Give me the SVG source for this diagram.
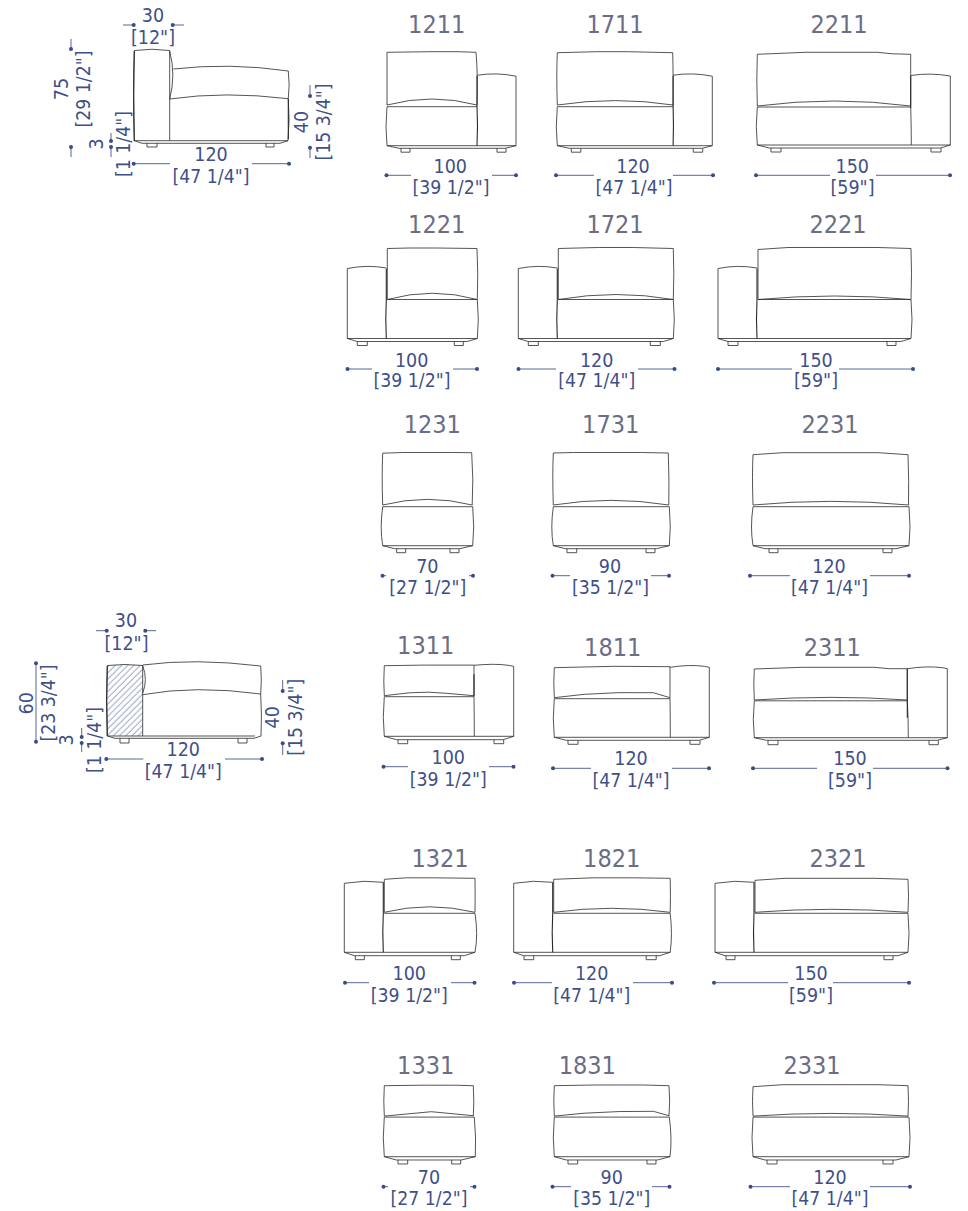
<svg xmlns="http://www.w3.org/2000/svg" width="968" height="1211" viewBox="0 0 968 1211">
<style>
text{font-family:"DejaVu Sans Condensed","DejaVu Sans",sans-serif;font-stretch:condensed;text-anchor:middle}
.t{font-size:25px;fill:#6b6d85}
.d{font-size:19.5px;fill:#3f5088}
.s{fill:none;stroke:#2a2a2a;stroke-width:.8}
.k{fill:none;stroke:#2a2a2a;stroke-width:1.1}
.l{fill:none;stroke:#46568c;stroke-width:.9;marker-start:url(#dot)}
</style>
<defs>
<marker id="dot" markerUnits="userSpaceOnUse" markerWidth="6" markerHeight="6" refX="3" refY="3"><circle cx="3" cy="3" r="2" fill="#3a4b85"/></marker>
<pattern id="hatch" patternUnits="userSpaceOnUse" width="4.4" height="4.4" patternTransform="rotate(-45)"><line x1="0" y1="2" x2="4.4" y2="2" stroke="#9aa6c4" stroke-width="1"/></pattern>
</defs>

<g id="connectors">
<path class="l" d="M133.7,25H123"/><path class="l" d="M172.7,25H184"/>
<path class="l" d="M133.7,163.7H170"/><path class="l" d="M289,163.7H252"/>
<path class="l" d="M71,49V39"/><path class="l" d="M71,147V157"/>
<path class="l" d="M310,96V85"/><path class="l" d="M310,147.7V158"/>
<path class="l" d="M111,141V133"/><path class="l" d="M111,147V157"/>
<path class="l" d="M106.7,630.7H96"/><path class="l" d="M145.3,630.7H156"/>
<path class="l" d="M106.3,759H143.3"/><path class="l" d="M262,759H225"/>
<path class="l" d="M36,663.3V741.7" style="marker-end:url(#dot)"/>
<path class="l" d="M81.7,737V728"/><path class="l" d="M81.7,743V752"/>
<path class="l" d="M282.7,691V680"/><path class="l" d="M282.7,743.3V755"/>

<path class="l" d="M386.5,175.3H411"/><path class="l" d="M516,175.3H492"/>
<path class="l" d="M556,175.3H594"/><path class="l" d="M713,175.3H673"/>
<path class="l" d="M756,175.3H830"/><path class="l" d="M950,175.3H876"/>
<path class="l" d="M347.5,369H372"/><path class="l" d="M477,369H453"/>
<path class="l" d="M518.5,369H556"/><path class="l" d="M674.5,369H638"/>
<path class="l" d="M718,369H792"/><path class="l" d="M913,369H839"/>
<path class="l" d="M382.5,575.7H386"/><path class="l" d="M473,575.7H469"/>
<path class="l" d="M552.5,575.7H570"/><path class="l" d="M669,575.7H651"/>
<path class="l" d="M750,575.7H790"/><path class="l" d="M909,575.7H870"/>
<path class="l" d="M383.5,766.7H408"/><path class="l" d="M513.5,766.7H489"/>
<path class="l" d="M553,768.3H591"/><path class="l" d="M709,768.3H672"/>
<path class="l" d="M753,768.3H817"/><path class="l" d="M947.5,768.3H873"/>
<path class="l" d="M345,982.7H369"/><path class="l" d="M474.5,982.7H451"/>
<path class="l" d="M514,982.7H552"/><path class="l" d="M672,982.7H633"/>
<path class="l" d="M714,982.7H788"/><path class="l" d="M909,982.7H833"/>
<path class="l" d="M383.5,1186.7H388"/><path class="l" d="M474.5,1186.7H470"/>
<path class="l" d="M552.5,1186.7H571"/><path class="l" d="M669.5,1186.7H652"/>
<path class="l" d="M750.5,1186.7H790"/><path class="l" d="M910,1186.7H870"/>
</g>

<g id="side-75">
<path class="s" d="M134.3,140.7Q133,95 134.3,50.5Q152,48 169.7,50.5V140.7M134.3,140.7H288M134.3,140.7L142,143.3H280L288,140.7M169.7,51Q176,75 169.7,99M173.3,69Q230,62.5 288.3,71Q290,85 288.3,98.7M169.7,99Q225,91 288.3,98.7Q290,120 288,140.7M147,143.3V147H157V143.3M266,143.3V147H274V143.3"/>
<path class="k" d="M134.3,141Q133,95 134.3,51M288.3,99V139"/>
<text class="d" x="153" y="21.7">30</text>
<text class="d" x="153" y="44.3" textLength="44" lengthAdjust="spacingAndGlyphs">[12"]</text>
<text class="d" x="211" y="160.7">120</text>
<text class="d" x="211" y="182.7" textLength="77" lengthAdjust="spacingAndGlyphs">[47 1/4"]</text>
<text class="d" transform="translate(68.3,89) rotate(-90)">75</text>
<text class="d" transform="translate(90,89) rotate(-90)" textLength="77" lengthAdjust="spacingAndGlyphs">[29 1/2"]</text>
<text class="d" transform="translate(307.7,122) rotate(-90)">40</text>
<text class="d" transform="translate(330,122) rotate(-90)" textLength="77" lengthAdjust="spacingAndGlyphs">[15 3/4"]</text>
<text class="d" transform="translate(103.3,144) rotate(-90)">3</text>
<text class="d" transform="translate(130,144) rotate(-90)" textLength="66" lengthAdjust="spacingAndGlyphs">[1 1/4"]</text>
</g>

<g id="side-60">
<path d="M107.3,665.5Q125,663.5 142.7,665.5V736H107.3Z" fill="url(#hatch)" stroke="none"/>
<path class="s" d="M107.3,736Q106,700 107.3,665.5Q125,663.5 142.7,665.5V736M107.3,736H255M107.3,736L115,738.3H254L261,736M142.7,665.5Q148,680 142.7,693M142.7,665Q195,658 260.7,666Q262,680 260.7,694M142.7,694.7Q195,685 260.7,694Q262,715 261,736M120,738.3V743H129V738.3M238,738.3V743H247V738.3"/>
<path class="k" d="M107.3,736Q106,700 107.3,666"/>
<text class="d" x="126" y="627.3">30</text>
<text class="d" x="126.5" y="650" textLength="44" lengthAdjust="spacingAndGlyphs">[12"]</text>
<text class="d" x="183.3" y="755.7">120</text>
<text class="d" x="183.3" y="777.7" textLength="77" lengthAdjust="spacingAndGlyphs">[47 1/4"]</text>
<text class="d" transform="translate(33.3,703.3) rotate(-90)">60</text>
<text class="d" transform="translate(55,703) rotate(-90)" textLength="77" lengthAdjust="spacingAndGlyphs">[23 3/4"]</text>
<text class="d" transform="translate(279.3,717.3) rotate(-90)">40</text>
<text class="d" transform="translate(302.3,717.3) rotate(-90)" textLength="77" lengthAdjust="spacingAndGlyphs">[15 3/4"]</text>
<text class="d" transform="translate(73.3,740) rotate(-90)">3</text>
<text class="d" transform="translate(100.7,740) rotate(-90)" textLength="66" lengthAdjust="spacingAndGlyphs">[1 1/4"]</text>
</g>

<g id="sofa-1211">
<text class="t" x="436.7" y="32.7">1211</text>
<g transform="translate(387,145.7)">
<path class="s" d="M0,-40.7V-93.4L44,-94H70L89,-93.4Q91,-70 90,-40.7M0,-40.7Q45,-52.7 90,-40.7M0,-39H90M0,-39Q-2,-18 0,0H129M0,0L12,2.6H118L129,0M90.5,-70.5Q110,-73.5 129,-69.5V0M14,2.6V6.5H23V2.6M110,2.6V6.5H119V2.6"/>
<path class="k" d="M90,-70V-40Q91,-20 90,0"/></g>
<text class="d" x="450.3" y="173.3">100</text>
<text class="d" x="451" y="194" textLength="77" lengthAdjust="spacingAndGlyphs">[39 1/2"]</text>
</g>
<g id="sofa-1711">
<text class="t" x="615" y="32.7">1711</text>
<g transform="translate(557.3,145.7)">
<path class="s" d="M0,-40.7Q-1,-70 0,-93L40,-94H70L115.4,-93Q116,-70 115.8,-40.7M0,-40.7Q58,-49.5 115.8,-40.7M0,-39H115.8M0,-39Q-2,-18 0,0H155M0,0L12,2.6H145L155,0M115.8,-70.5Q135,-73.5 155,-69.5V0M14,2.6V6.5H23.5V2.6M136,2.6V6.5H145.4V2.6"/>
<path class="k" d="M115.8,-70V-40Q116.5,-20 115.8,0"/></g>
<text class="d" x="633" y="173.3">120</text>
<text class="d" x="634" y="194" textLength="77" lengthAdjust="spacingAndGlyphs">[47 1/4"]</text>
</g>
<g id="sofa-2211">
<text class="t" x="839" y="32.7">2211</text>
<g transform="translate(757.3,145)">
<path class="s" d="M0,-39Q-1,-65 0,-90.7L48,-92.7H120L135,-91.2L153.4,-90.7V-39M0,-39Q77,-49 153.4,-39M0,-38H153.4M0,-38Q-2,-18 0,0H193M0,0L12,3H183L193,0M153.4,-69.5Q173,-72.5 193,-69V0M153.4,-38Q154,-20 154,0M13.7,3V7H23.7V3M173.7,3V7H183.7V3"/>
<path class="k" d="M153.4,-69V-37"/></g>
<text class="d" x="852.3" y="173.3">150</text>
<text class="d" x="852.5" y="194" textLength="44" lengthAdjust="spacingAndGlyphs">[59"]</text>
</g>

<g id="sofa-1221">
<text class="t" x="436.7" y="233.3">1221</text>
<g transform="translate(387.3,338.5)">
<path class="s" d="M0,-39V-90L22,-90.5H48L89.7,-90Q91,-65 90,-39M0,-39Q45,-51.5 90,-39H0M90,-39Q92,-18 90,0M-40,0H90M-40,0L-30,3H80L90,0M-40,0V-70Q-20,-74 -1,-70.5M-30,3V7H-20V3M67,3V7H76V3"/>
<path class="k" d="M-1,-70V-39Q-2,-20 -1,0"/></g>
<text class="d" x="411.7" y="366.7">100</text>
<text class="d" x="412" y="387.3" textLength="77" lengthAdjust="spacingAndGlyphs">[39 1/2"]</text>
</g>
<g id="sofa-1721">
<text class="t" x="615" y="233.3">1721</text>
<g transform="translate(558.3,338.5)">
<path class="s" d="M0,-39V-90L40,-91H75L115,-90Q116,-65 115,-39M0,-39Q58,-49 115,-39H0M115,-39Q117,-18 115,0M-40,0H115M-40,0L-30,3H105L115,0M-40,0V-70Q-20,-74 -1,-70.5M-30,3V7H-20V3M92,3V7H102V3"/>
<path class="k" d="M-1,-70V-39Q-2,-20 -1,0"/></g>
<text class="d" x="596.7" y="366.7">120</text>
<text class="d" x="596.7" y="387.3" textLength="77" lengthAdjust="spacingAndGlyphs">[47 1/4"]</text>
</g>
<g id="sofa-2221">
<text class="t" x="838" y="233.3">2221</text>
<g transform="translate(758,338.5)">
<path class="s" d="M0,-39V-89L30,-91H120L153,-90Q154,-65 153,-39M0,-39Q77,-46 153,-39H0M153,-39Q155,-18 153,0M-40,0H153M-40,0L-30,3H143L153,0M-40,0V-70Q-20,-74 -1,-70.5M-30,3V7H-20V3M129,3V7H138V3"/>
<path class="k" d="M-1,-70V-39Q-2,-20 -1,0"/></g>
<text class="d" x="816" y="366.7">150</text>
<text class="d" x="816" y="387.3" textLength="44" lengthAdjust="spacingAndGlyphs">[59"]</text>
</g>

<g id="sofa-1231">
<text class="t" x="432.3" y="433.3">1231</text>
<g transform="translate(382.7,545.7)">
<path class="s" d="M0,-40.7Q-1,-70 0,-92.5L20,-93.2H70L89,-93Q91,-65 89.5,-40.7M0,-40.7Q45,-52 89.5,-40.7M0,-39H90M0,-39Q-3,-18 0,0L12,3H77L90,0M0,0H90M90,-39Q92,-18 90,0M14,3V7H23V3M67.3,3V7H76.3V3"/></g>
<text class="d" x="427.3" y="573.3">70</text>
<text class="d" x="427.7" y="594" textLength="77" lengthAdjust="spacingAndGlyphs">[27 1/2"]</text>
</g>
<g id="sofa-1731">
<text class="t" x="610.7" y="433.3">1731</text>
<g transform="translate(553.3,545.7)">
<path class="s" d="M0,-40.7Q-1,-70 0,-92.7L20,-93.2H88L115,-92.7Q116,-65 115.5,-40.7M0,-40.7Q58,-50 115.5,-40.7M0,-39H116M0,-39Q-3,-18 0,0L12,3H103L116,0M0,0H116M116,-39Q118,-18 116,0M13.7,3V7H23.4V3M92.7,3V7H101.7V3"/></g>
<text class="d" x="610" y="573.3">90</text>
<text class="d" x="610.5" y="594" textLength="77" lengthAdjust="spacingAndGlyphs">[35 1/2"]</text>
</g>
<g id="sofa-2231">
<text class="t" x="830" y="433.3">2231</text>
<g transform="translate(753,545.7)">
<path class="s" d="M0,-40.7Q-1,-70 0,-91L30,-93H125L155,-91Q156,-65 155.5,-40.7M0,-40.7Q78,-48 155.5,-40.7M0,-39H156M0,-39Q-3,-18 0,0L12,3H143L156,0M0,0H156M156,-39Q158,-18 156,0M16,3V7H25V3M130,3V7H139V3"/></g>
<text class="d" x="829" y="573.3">120</text>
<text class="d" x="829.5" y="594" textLength="77" lengthAdjust="spacingAndGlyphs">[47 1/4"]</text>
</g>

<g id="sofa-1311">
<text class="t" x="425.7" y="654.3">1311</text>
<g transform="translate(384.3,736.3)">
<path class="s" d="M0,-40.6Q-1,-55 0,-70.6L40,-71.2H89.7V-40.6M0,-40.6L25,-43.5Q45,-45 62,-43L89.7,-40.6M0,-39.6H89.7M0,-39.6Q-2,-18 0,0H129.4M0,0L12,3.4H119L129.4,0M89.7,-71Q110,-73 124,-71L129.4,-70V0M89.7,-40Q90,-20 90,0M13.7,3.4V7.4H23.4V3.4M109.7,3.4V7.4H119.4V3.4"/>
<path class="k" d="M89.7,-62V-40"/></g>
<text class="d" x="448.3" y="764.3">100</text>
<text class="d" x="448.3" y="785.7" textLength="77" lengthAdjust="spacingAndGlyphs">[39 1/2"]</text>
</g>
<g id="sofa-1811">
<text class="t" x="612.7" y="656">1811</text>
<g transform="translate(554.3,737.3)">
<path class="s" d="M0,-39.6Q-1,-55 0,-69.6L60,-71L115.7,-70.6V-39.6M0,-39.6L30,-43Q65,-45.5 99,-44.6L115.7,-39.6M0,-38.6H115.7M0,-38.6Q-2,-18 0,0H155M0,0L12,3H145L155,0M115.7,-70Q135,-73 150,-71L155,-70V0M115.7,-39Q116,-20 116,0M13.7,3V7H23.7V3M135.7,3V7H145.7V3"/></g>
<text class="d" x="631" y="765">120</text>
<text class="d" x="631" y="787" textLength="77" lengthAdjust="spacingAndGlyphs">[47 1/4"]</text>
</g>
<g id="sofa-2311">
<text class="t" x="832.3" y="656">2311</text>
<g transform="translate(754.3,737.7)">
<path class="s" d="M0,-37.7Q-1,-55 0,-68.7L48,-70.4H120L135,-69L153,-69V-37.7M0,-37.7Q77,-43 153,-37.7M0,-36.9H153M0,-36.9Q-2,-18 0,0H193M0,0L12,2.6H183L193,0M153,-69Q173,-72 188,-70L193,-69V0M153,-37Q154,-20 154,0M13.7,2.6V7H23.7V2.6M174.7,2.6V7H184V2.6"/>
<path class="k" d="M153,-69V-20"/></g>
<text class="d" x="850" y="765">150</text>
<text class="d" x="850" y="787" textLength="44" lengthAdjust="spacingAndGlyphs">[59"]</text>
</g>

<g id="sofa-1321">
<text class="t" x="440" y="866.7">1321</text>
<g transform="translate(384.3,952.3)">
<path class="s" d="M0,-40V-73L22,-74.5H48L90.7,-74Q91,-55 90.7,-40M0,-40Q45,-51 90.7,-40M0,-39H90.7Q94,-18 90.7,0M-40,0H90.7M-40,0L-30,3.4H80L90.7,0M-40,0V-69Q-20,-72.5 -1,-70M-29,3.4V7.4H-20V3.4M67,3.4V7.4H76V3.4"/>
<path class="k" d="M-1,-70V-39Q-2,-20 -1,0"/></g>
<text class="d" x="409.3" y="980">100</text>
<text class="d" x="409.3" y="1002" textLength="77" lengthAdjust="spacingAndGlyphs">[39 1/2"]</text>
</g>
<g id="sofa-1821">
<text class="t" x="611.7" y="866.7">1821</text>
<g transform="translate(553.7,952.3)">
<path class="s" d="M0,-40V-73L40,-74.5H80L116.5,-74Q117,-55 116.5,-40M0,-40Q58,-48 116.5,-40M0,-39H116.5Q119,-18 116.5,0M-40,0H116.5M-40,0L-30,3.4H106L116.5,0M-40,0V-69Q-20,-72.5 -1,-70M-29.7,3.4V7.4H-20V3.4M92.5,3.4V7.4H102.5V3.4"/>
<path class="k" d="M-1,-70V-39Q-2,-20 -1,0"/></g>
<text class="d" x="591.7" y="980">120</text>
<text class="d" x="591.7" y="1002" textLength="77" lengthAdjust="spacingAndGlyphs">[47 1/4"]</text>
</g>
<g id="sofa-2321">
<text class="t" x="838" y="866.7">2321</text>
<g transform="translate(755,952.3)">
<path class="s" d="M0,-40V-72L30,-74H120L153,-73Q154,-55 153,-40M0,-40Q77,-46 153,-40M0,-39H153Q155,-18 153,0M-40,0H153M-40,0L-30,3.4H143L153,0M-40,0V-69Q-20,-72.5 -1,-70M-29,3.4V7.4H-20V3.4M129,3.4V7.4H138V3.4"/>
<path class="k" d="M-1,-70V-39Q-2,-20 -1,0"/></g>
<text class="d" x="811" y="980">150</text>
<text class="d" x="811" y="1002" textLength="44" lengthAdjust="spacingAndGlyphs">[59"]</text>
</g>

<g id="sofa-1331">
<text class="t" x="425.7" y="1074.3">1331</text>
<g transform="translate(384.3,1156.7)">
<path class="s" d="M0,-40.6Q-1,-55 0,-71L40,-71.5H70L89,-71Q90,-55 89,-40.6M0,-40.6L47,-45L89,-41M0,-39.6H90M0,-39.6Q-2,-18 0,0L12,3.3H77L91,0H0M90,-39.6Q92,-18 91,0M13.7,3.3V7.3H23.4V3.3M67.4,3.3V7.3H76.4V3.3"/></g>
<text class="d" x="429" y="1184">70</text>
<text class="d" x="429" y="1205" textLength="77" lengthAdjust="spacingAndGlyphs">[27 1/2"]</text>
</g>
<g id="sofa-1831">
<text class="t" x="587.3" y="1074.3">1831</text>
<g transform="translate(554.3,1156.7)">
<path class="s" d="M0,-40.6Q-1,-55 0,-71L40,-71.7H88L114.7,-71Q116,-55 114.7,-40.6M0,-40.6L30,-43.5Q65,-45.8 99,-45.4L114.7,-41M0,-39.6H115M0,-39.6Q-2,-18 0,0L12,3.3H103L115.7,0H0M115,-39.6Q118,-18 115.7,0M13.7,3.3V7.3H23.4V3.3M92.7,3.3V7.3H101.7V3.3"/></g>
<text class="d" x="611.7" y="1184">90</text>
<text class="d" x="611.7" y="1205" textLength="77" lengthAdjust="spacingAndGlyphs">[35 1/2"]</text>
</g>
<g id="sofa-2331">
<text class="t" x="812" y="1074.3">2331</text>
<g transform="translate(753,1156.7)">
<path class="s" d="M0,-40.6Q-1,-55 0,-70L30,-72H125L155,-71Q156,-55 155,-40.6M0,-40.6Q78,-46 155,-40.6M0,-39.6H156M0,-39.6Q-2,-18 0,0L12,3.3H143L156,0H0M156,-39.6Q158,-18 156,0M14,3.3V7.3H24V3.3M130,3.3V7.3H140V3.3"/></g>
<text class="d" x="830" y="1184">120</text>
<text class="d" x="830" y="1205" textLength="77" lengthAdjust="spacingAndGlyphs">[47 1/4"]</text>
</g>
</svg>
